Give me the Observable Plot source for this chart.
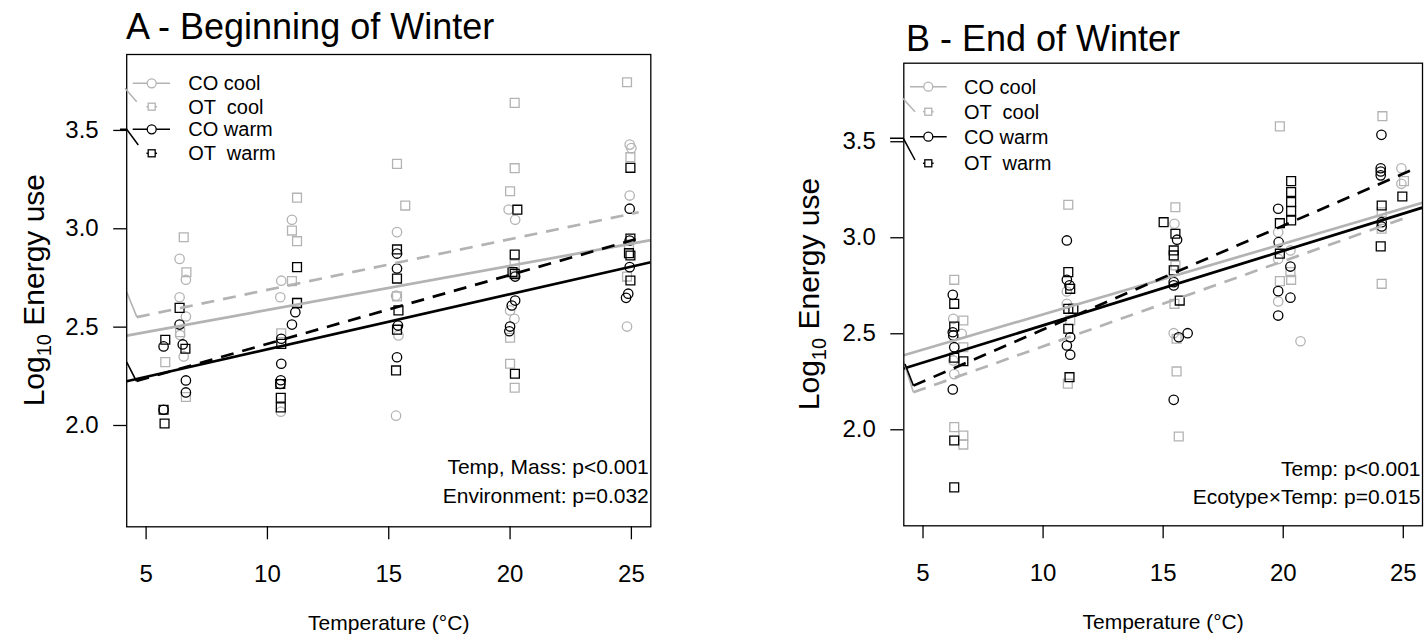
<!DOCTYPE html>
<html><head><meta charset="utf-8">
<script src="https://cdn.jsdelivr.net/npm/d3@7"></script>
<script src="https://cdn.jsdelivr.net/npm/@observablehq/plot@0.6"></script>
<style>
html,body{margin:0;padding:0;background:#fff;}
#wrap{position:relative;width:1424px;height:638px;overflow:hidden;font-family:"Liberation Sans",Arial,sans-serif;}
#wrap svg{position:absolute;top:0;}
</style></head><body><div id="wrap"></div>
<script>
// ---------- data ----------
const groupNames = ["CO cool", "OT cool", "CO warm", "OT warm"];
const xTicks = [5, 10, 15, 20, 25];
const yTicks = [2.0, 2.5, 3.0, 3.5];

// Panel A - Beginning of Winter
const aCOcoolT = [6.38,6.64,6.38,6.64,6.40,6.55,11.01,10.57,10.53,10.55,15.34,15.30,15.40,15.30,19.94,20.21,20.19,20.00,20.18,24.93,25.00,24.93,24.82];
const aCOcoolE = [2.847,2.741,2.652,2.554,2.46,2.351,3.046,2.736,2.652,2.07,2.983,2.66,2.458,2.05,3.098,3.046,2.763,2.585,2.542,3.428,3.41,3.169,2.503];
const aOTcoolT = [5.79,6.55,6.66,6.40,6.64,11.22,11.01,11.22,11.01,11.22,10.57,15.34,15.68,15.34,20.19,20.19,20.00,20.19,20.00,20.00,20.19,24.82,24.96,24.82,24.90];
const aOTcoolE = [2.322,2.957,2.779,2.474,2.145,3.158,2.991,2.937,2.734,2.627,2.469,3.33,3.118,2.656,3.64,3.308,3.191,2.818,2.446,2.314,2.192,3.745,3.364,2.757,2.92];
const aCOwarmT = [5.72,5.72,6.38,6.51,6.64,6.64,11.15,11.01,10.57,10.57,10.53,10.55,15.34,15.34,15.38,15.34,20.21,20.21,20.07,20.00,19.97,24.93,24.93,24.93,24.87,24.78];
const aCOwarmE = [2.402,2.08,2.513,2.412,2.229,2.168,2.576,2.513,2.441,2.314,2.211,2.23,2.874,2.798,2.508,2.347,2.757,2.635,2.61,2.503,2.479,3.102,2.94,2.805,2.67,2.649];
const aOTwarmT = [5.79,5.72,5.76,6.38,6.62,11.22,11.22,10.57,10.53,10.55,10.55,15.34,15.34,15.40,15.34,15.30,20.30,20.19,20.19,20.10,20.20,24.96,24.90,24.96,24.96,24.96];
const aOTwarmE = [2.436,2.08,2.01,2.598,2.39,2.805,2.622,2.415,2.211,2.141,2.092,2.895,2.747,2.585,2.487,2.28,3.097,2.869,2.771,2.78,2.263,3.31,2.876,2.864,2.737,2.95];
// fitted lines A (order: CO cool, OT cool, CO warm, OT warm)
const aFitT1 = [4.2, 4.62, 4.2, 4.6];
const aFitE1 = [2.457, 2.551, 2.225, 2.226];
const aFitT2 = [25.8, 25.3, 25.8, 25.3];
const aFitE2 = [2.942, 3.084, 2.83, 2.951];
// short solid strokes at the left edge (OT cool, OT warm)
const aEdgeT1 = [4.2, 4.2], aEdgeE1 = [2.678, 2.322];
const aEdgeT2 = [4.62, 4.6], aEdgeE2 = [2.551, 2.226];
const aNotes = ["Temp, Mass: p<0.001", "Environment: p=0.032"];

// Panel B - End of Winter
const bCOcoolT = [6.26,6.61,6.26,6.30,10.99,10.99,15.47,15.44,19.79,19.79,20.30,19.79,20.72,24.92,24.92];
const bCOcoolE = [2.578,2.50,2.361,2.29,2.72,2.656,3.073,2.503,3.029,2.89,2.934,2.668,2.461,3.362,3.281];
const bOTcoolT = [6.30,6.68,6.68,6.30,6.68,6.68,11.05,11.13,11.03,15.51,15.51,15.47,15.56,15.56,15.65,19.86,20.30,19.86,20.33,24.13,25.03,24.10,24.10,24.10];
const bOTcoolE = [2.781,2.569,2.43,2.014,1.97,1.923,3.172,2.57,2.24,3.159,2.856,2.656,2.474,2.304,1.965,3.58,2.821,2.774,2.781,3.633,3.295,3.133,3.047,2.76];
const bCOwarmT = [6.24,6.24,6.26,6.30,6.24,10.99,10.99,11.10,11.13,10.99,11.13,15.58,15.44,15.44,15.65,16.02,15.44,19.79,19.81,20.30,19.79,20.30,19.79,24.09,24.06,24.06,24.06,24.10,24.10];
const bCOwarmE = [2.703,2.508,2.491,2.43,2.21,2.986,2.781,2.752,2.482,2.439,2.391,2.99,2.769,2.752,2.482,2.503,2.156,3.151,2.977,2.85,2.722,2.688,2.595,3.536,3.362,3.345,3.325,3.081,3.059];
const bOTwarmT = [6.30,6.30,6.30,6.68,6.30,6.30,11.05,11.13,11.05,11.26,11.05,11.10,15.02,15.51,15.44,15.44,15.44,15.69,20.33,20.33,20.33,20.33,20.33,19.86,19.86,24.96,24.10,24.06];
const bOTwarmE = [2.656,2.538,2.375,2.357,1.944,1.70,2.821,2.734,2.63,2.63,2.526,2.274,3.081,3.021,2.934,2.908,2.83,2.673,3.295,3.238,3.186,3.139,3.09,3.076,2.917,3.215,3.168,2.955];
const bFitT1 = [4.2, 4.6, 4.2, 4.6];
const bFitE1 = [2.388, 2.195, 2.319, 2.23];
const bFitT2 = [25.8, 25.3, 25.8, 25.3];
const bFitE2 = [3.182, 3.113, 3.157, 3.35];
const bEdgeT1 = [4.2, 4.25], bEdgeE1 = [2.352, 2.343];
const bEdgeT2 = [4.6, 4.6], bEdgeE2 = [2.195, 2.23];
const bNotes = ["Temp: p<0.001", "Ecotype\u00d7Temp: p=0.015"];

// ---------- drawing ----------
const GREY = "#b3b3b3";
const FONT = "'Liberation Sans', Arial, sans-serif";
const colorOf = g => g.endsWith("cool") ? GREY : "black";
const isOT = g => g.startsWith("OT");
const rows = (T, E) => T.map((t, i) => ({t, e: E[i]}));

function drawPanel(cfg) {
  const marks = [];
  cfg.points.forEach((p, gi) => {
    const g = groupNames[gi];
    marks.push(Plot.dot(rows(p[0], p[1]), {
      x: "t", y: "e", symbol: isOT(g) ? "square" : "circle", r: isOT(g) ? 5.0 : 4.7,
      stroke: colorOf(g), fill: "none", strokeWidth: 1.3
    }));
  });
  groupNames.forEach((g, i) => {
    marks.push(Plot.link([0], {
      x1: () => cfg.fit[0][i], y1: () => cfg.fit[1][i], x2: () => cfg.fit[2][i], y2: () => cfg.fit[3][i],
      stroke: colorOf(g), strokeWidth: 2.7, strokeDasharray: isOT(g) ? "13,9" : undefined, clip: true
    }));
  });
  cfg.edge[0].forEach((_, i) => {
    marks.push(Plot.link([0], {
      x1: () => cfg.edge[0][i], y1: () => cfg.edge[1][i], x2: () => cfg.edge[2][i], y2: () => cfg.edge[3][i],
      stroke: i === 0 ? GREY : "black", strokeWidth: 1.6, clip: true
    }));
  });
  cfg.notes.forEach((n, i) => {
    marks.push(Plot.text([n], {text: d => d, frameAnchor: "bottom-right", textAnchor: "end",
      dx: -2, dy: cfg.noteDy[i], fontSize: 21, fill: "black"}));
  });
  marks.push(Plot.axisX({ticks: xTicks, tickSize: 13, tickPadding: 25, label: null, fontSize: 24, strokeWidth: 1.3}));
  marks.push(Plot.axisY({ticks: yTicks, tickFormat: d3.format(".1f"), tickSize: 13, tickPadding: 15, label: null, fontSize: 24, strokeWidth: 1.3}));
  marks.push(Plot.text(["Temperature (\u00b0C)"], {text: d => d, frameAnchor: "bottom", dy: 103, fontSize: 21, fill: "black"}));
  marks.push(Plot.frame({stroke: "black", strokeWidth: 1.3}));

  const svg = Plot.plot({
    width: cfg.width, height: 638,
    marginLeft: cfg.ml, marginRight: cfg.mr, marginTop: cfg.mt, marginBottom: cfg.mb,
    x: {domain: [4.2, 25.8]},
    y: {domain: cfg.yDomain},
    style: {fontFamily: FONT, fontSize: "24px", overflow: "visible", background: "transparent", color: "black"},
    marks
  });
  svg.style.left = cfg.left + "px";
  const s = d3.select(svg);
  // title
  s.append("text").attr("x", cfg.titleX).attr("y", cfg.titleY).attr("text-anchor", "start")
    .attr("font-size", 36).attr("font-family", FONT).attr("fill", "black").text(cfg.title);
  // y-axis title with subscript
  const yt = s.append("text").attr("transform", `translate(${cfg.ytX},${cfg.mt + (638 - cfg.mt - cfg.mb) / 2}) rotate(-90)`)
    .attr("text-anchor", "middle").attr("dy", "0.35em").attr("font-size", 30).attr("font-family", FONT).attr("fill", "black");
  yt.append("tspan").text("Log");
  yt.append("tspan").attr("font-size", 20).attr("dy", 7).text("10");
  yt.append("tspan").attr("dy", -7).text(" Energy use");
  // legend
  const L = s.append("g").attr("transform", `translate(${cfg.ml},${cfg.mt})`);
  const lg = cfg.legend;
  groupNames.forEach((g, i) => {
    const y = lg.rows[i], c = colorOf(g);
    if (isOT(g)) {
      L.append("line").attr("x1", lg.sym - 5.3).attr("x2", lg.sym + 5.3).attr("y1", y).attr("y2", y).attr("stroke", c).attr("stroke-width", 1.5);
      L.append("rect").attr("x", lg.sym - 3.5).attr("y", y - 3.5).attr("width", 7).attr("height", 7).attr("fill", "white").attr("stroke", c).attr("stroke-width", 1.3);
    } else {
      L.append("line").attr("x1", lg.x1).attr("x2", lg.x2).attr("y1", y).attr("y2", y).attr("stroke", c).attr("stroke-width", 1.5);
      L.append("circle").attr("cx", lg.sym).attr("cy", y).attr("r", 4.5).attr("fill", "white").attr("stroke", c).attr("stroke-width", 1.3);
    }
    L.append("text").attr("x", lg.text).attr("y", y).attr("dy", "0.35em").attr("font-size", 20).attr("text-anchor", "start")
      .attr("font-family", FONT).attr("fill", "black").style("white-space", "pre")
      .text(isOT(g) ? g.replace(" ", "  ") : g);
  });
  L.append("polyline").attr("points", lg.greyStroke).attr("fill", "none").attr("stroke", GREY).attr("stroke-width", 1.5);
  L.append("polyline").attr("points", lg.blackStroke).attr("fill", "none").attr("stroke", "black").attr("stroke-width", 1.5);
  document.getElementById("wrap").appendChild(svg);
}

drawPanel({
  left: 0, width: 700, ml: 126.2, mr: 49.7, mt: 54, mb: 111.7,
  yDomain: [1.485, 3.886],
  points: [[aCOcoolT, aCOcoolE], [aOTcoolT, aOTcoolE], [aCOwarmT, aCOwarmE], [aOTwarmT, aOTwarmE]],
  fit: [aFitT1, aFitE1, aFitT2, aFitE2],
  edge: [aEdgeT1, aEdgeE1, aEdgeT2, aEdgeE2],
  notes: aNotes, noteDy: [-53.3, -24.3],
  title: "A - Beginning of Winter", titleX: 126, titleY: 39,
  ytX: 33,
  legend: {rows: [29.3, 52.7, 75.3, 99.3], x1: 6.5, x2: 43.8, sym: 25.5, text: 62.1,
    greyStroke: "-1.2,34.3 10.5,47.7", blackStroke: "-6.2,75.3 0.5,75.3 12.1,91"}
});
drawPanel({
  left: 700, width: 724, ml: 203.3, mr: 2, mt: 62.7, mb: 112.7,
  yDomain: [1.5, 3.909],
  points: [[bCOcoolT, bCOcoolE], [bOTcoolT, bOTcoolE], [bCOwarmT, bCOwarmE], [bOTwarmT, bOTwarmE]],
  fit: [bFitT1, bFitE1, bFitT2, bFitE2],
  edge: [bEdgeT1, bEdgeE1, bEdgeT2, bEdgeE2],
  notes: bNotes, noteDy: [-50.3, -21.5],
  title: "B - End of Winter", titleX: 206, titleY: 51,
  ytX: 108,
  legend: {rows: [24, 49, 74, 100.6], x1: 6.7, x2: 43.4, sym: 25, text: 60.7,
    greyStroke: "-0.6,35.6 11.7,49", blackStroke: "-13.3,75.6 0,75.6 11.7,97.3"}
});
</script></body></html>
